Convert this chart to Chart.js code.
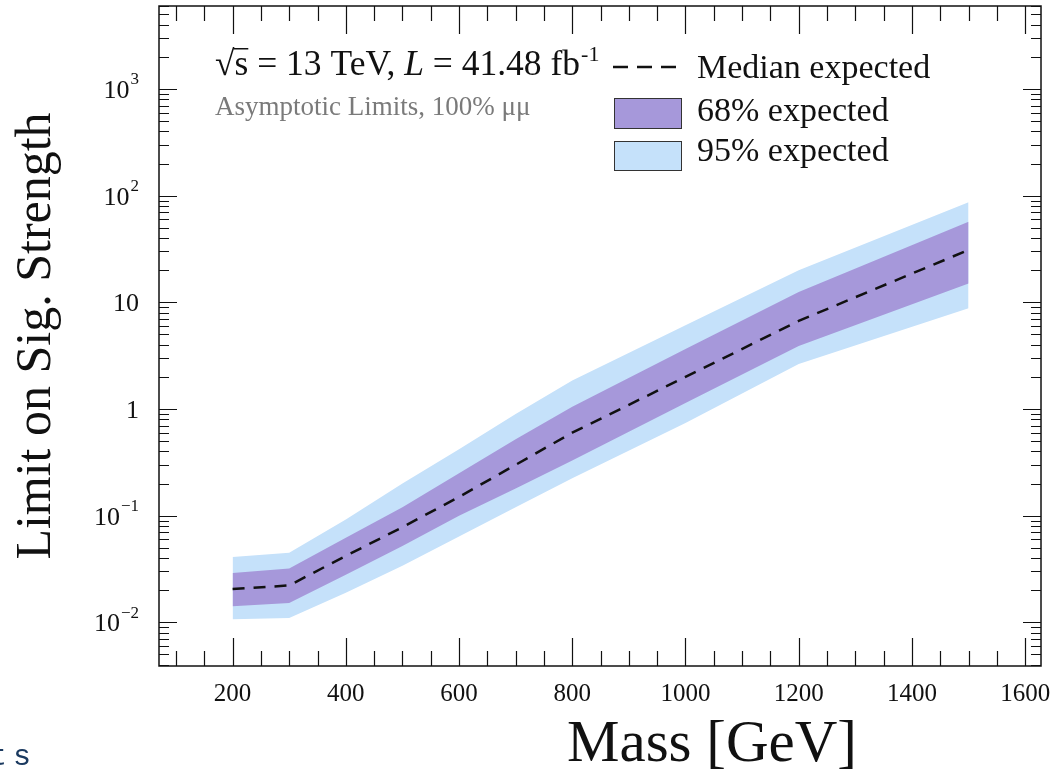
<!DOCTYPE html>
<html>
<head>
<meta charset="utf-8">
<script src="https://cdn.jsdelivr.net/npm/chart.js@4.4.1/dist/chart.umd.min.js"></script>
<style>
    html, body { margin: 0; padding: 0; background: #fff; }
    #wrap { position: relative; width: 1062px; height: 775px; overflow: hidden; }
    #tag { position: absolute; left: -11px; top: 742px; font: 30px "Liberation Mono", monospace; letter-spacing: 6px; color: #1b3a60; line-height: 1; }
</style>
</head>
<body>
<div id="wrap">
    <canvas id="limitChart" width="1062" height="775"></canvas>
    <div id="tag">ts</div>
</div>
<script>
// values (signal strength limits vs. mass in GeV)
const masses = [200, 300, 400, 500, 600, 700, 800, 1000, 1200, 1500];
const median = [0.0205, 0.0222, 0.042, 0.078, 0.15, 0.30, 0.60, 2.0, 6.7, 31];
const up68 = [0.029, 0.032, 0.062, 0.12, 0.25, 0.52, 1.05, 3.65, 12.5, 57];
const down68 = [0.0142, 0.0152, 0.028, 0.052, 0.10, 0.18, 0.33, 1.14, 3.9, 15];
const up95 = [0.041, 0.045, 0.092, 0.20, 0.42, 0.90, 1.85, 6.1, 20, 87];
const down95 = [0.0107, 0.011, 0.019, 0.034, 0.064, 0.12, 0.225, 0.74, 2.65, 8.8];

const xTickValues = [200, 400, 600, 800, 1000, 1200, 1400, 1600];
const xTickLabels = ['200', '400', '600', '800', '1000', '1200', '1400', '1600'];
const yTickValues = [0.01, 0.1, 1, 10, 100, 1000];
// [base, exponent]
const yTickLabels = [['10', '\u22122'], ['10', '\u22121'], ['1', ''], ['10', ''], ['10', '2'], ['10', '3']];
const legendLabels = ['Median expected', '68% expected', '95% expected'];

const color68 = '#a698da';
const color95 = '#c5e1fa';
const serif = '"Liberation Serif", "Times New Roman", serif';

const points = (vals) => masses.map((m, i) => ({ x: m, y: vals[i] }));

// ROOT-style frame with inward ticks on all four sides, plus the y labels with real superscripts
const frameAndTicks = {
    id: 'frameAndTicks',
    afterDatasetsDraw(chart) {
        const { ctx, chartArea: a, scales: { x, y } } = chart;
        ctx.save();
        ctx.strokeStyle = '#111';
        ctx.lineWidth = 1.2;
        ctx.beginPath();
        for (let v = Math.ceil(x.min / 50) * 50; v <= x.max; v += 50) {
            const px = Math.round(x.getPixelForValue(v)) + 0.5;
            const len = v % 200 === 0 ? 28 : 15;
            ctx.moveTo(px, a.bottom); ctx.lineTo(px, a.bottom - len);
            ctx.moveTo(px, a.top); ctx.lineTo(px, a.top + len);
        }
        for (let e = -3; e <= 3; e++) {
            for (let k = 1; k <= 9; k++) {
                const v = k * Math.pow(10, e);
                if (v < y.min || v > y.max) continue;
                const py = Math.round(y.getPixelForValue(v)) + 0.5;
                const len = k === 1 ? 18 : 10;
                ctx.moveTo(a.left, py); ctx.lineTo(a.left + len, py);
                ctx.moveTo(a.right, py); ctx.lineTo(a.right - len, py);
            }
        }
        ctx.stroke();
        ctx.lineWidth = 1.5;
        ctx.strokeRect(a.left, a.top, a.right - a.left, a.bottom - a.top);

        ctx.fillStyle = '#111';
        ctx.textAlign = 'right';
        ctx.textBaseline = 'middle';
        const rightEdge = a.left - 20;
        yTickValues.forEach((v, i) => {
            const py = y.getPixelForValue(v) + 2;
            const [base, exp] = yTickLabels[i];
            let ew = 0;
            if (exp) {
                ctx.font = '17px ' + serif;
                ew = ctx.measureText(exp).width + 1;
                ctx.fillText(exp, rightEdge, py - 11);
            }
            ctx.font = '26px ' + serif;
            ctx.fillText(base, rightEdge - ew, py);
        });
        ctx.restore();
    }
};

// axis titles, the energy/lumi label and the legend box
const labels = {
    id: 'labels',
    afterDraw(chart) {
        const { ctx, chartArea: a } = chart;
        ctx.save();
        ctx.fillStyle = '#111';

        ctx.save();
        ctx.translate(37, (a.top + a.bottom) / 2);
        ctx.rotate(-Math.PI / 2);
        ctx.font = '50px ' + serif;
        ctx.textAlign = 'center';
        ctx.textBaseline = 'middle';
        ctx.fillText('Limit on Sig. Strength', 0, 0);
        ctx.restore();

        ctx.font = '59px ' + serif;
        ctx.textAlign = 'left';
        ctx.textBaseline = 'alphabetic';
        ctx.fillText('Mass [GeV]', 567, 761);

        // sqrt(s) = 13 TeV, L = 41.48 fb^-1
        let tx = 215;
        const by = 75;
        ctx.font = '35.5px ' + serif;
        ctx.fillText('\u221A', tx, by);
        const rw = ctx.measureText('\u221A').width;
        const sw = ctx.measureText('s').width;
        ctx.fillRect(tx + rw - 1, by - 27, sw + 1, 1.5);
        ctx.fillText('s = 13 TeV, ', tx + rw, by);
        tx += rw + ctx.measureText('s = 13 TeV, ').width;
        ctx.font = 'italic 35.5px ' + serif;
        ctx.fillText('L', tx, by);
        tx += ctx.measureText('L').width;
        ctx.font = '35.5px ' + serif;
        ctx.fillText(' = 41.48 fb', tx, by);
        tx += ctx.measureText(' = 41.48 fb').width;
        ctx.font = '22px ' + serif;
        ctx.fillText('-1', tx + 1, by - 14);

        ctx.fillStyle = '#7a7a7a';
        ctx.font = '27px ' + serif;
        ctx.fillText('Asymptotic Limits, 100% \u03BC\u03BC', 215, 115);

        // legend
        ctx.strokeStyle = '#111';
        ctx.lineWidth = 2.5;
        ctx.setLineDash([15, 9]);
        ctx.beginPath();
        ctx.moveTo(613, 67); ctx.lineTo(682, 67);
        ctx.stroke();
        ctx.setLineDash([]);

        ctx.lineWidth = 1;
        ctx.strokeStyle = '#333';
        ctx.fillStyle = color68;
        ctx.fillRect(614, 98, 68, 30);
        ctx.strokeRect(614.5, 98.5, 67, 30);
        ctx.fillStyle = color95;
        ctx.fillRect(614, 141, 68, 29);
        ctx.strokeRect(614.5, 141.5, 67, 29);

        ctx.fillStyle = '#111';
        ctx.font = '34px ' + serif;
        ctx.fillText(legendLabels[0], 697, 78);
        ctx.fillText(legendLabels[1], 697, 121);
        ctx.fillText(legendLabels[2], 697, 161);
        ctx.restore();
    }
};

const ctx = document.getElementById('limitChart').getContext('2d');
new Chart(ctx, {
    type: 'line',
    data: {
        datasets: [
            { label: '95% up', data: points(up95), fill: '+1', backgroundColor: color95, borderWidth: 0, pointRadius: 0, order: 3 },
            { label: '95% down', data: points(down95), fill: false, borderWidth: 0, pointRadius: 0, order: 3 },
            { label: '68% up', data: points(up68), fill: '+1', backgroundColor: color68, borderWidth: 0, pointRadius: 0, order: 2 },
            { label: '68% down', data: points(down68), fill: false, borderWidth: 0, pointRadius: 0, order: 2 },
            { label: 'Median expected', data: points(median), fill: false, borderColor: '#111', borderWidth: 2.5,
              borderDash: [12, 9], pointRadius: 0, tension: 0, order: 1 }
        ]
    },
    options: {
        responsive: false,
        animation: false,
        devicePixelRatio: 1,
        layout: { padding: { top: 6, right: 21, left: 0, bottom: 0 } },
        plugins: {
            legend: { display: false },
            tooltip: { enabled: false }
        },
        scales: {
            x: {
                type: 'linear',
                min: 70,
                max: 1628,
                grid: { display: false, drawTicks: false },
                border: { display: false },
                afterBuildTicks: (s) => { s.ticks = xTickValues.map(v => ({ value: v })); },
                ticks: {
                    callback: (v, i) => xTickLabels[i],
                    font: { family: serif, size: 25 },
                    color: '#111',
                    padding: 13,
                    maxRotation: 0,
                    autoSkip: false
                },
                afterFit: (s) => { s.height = 109; s.paddingLeft = 0; s.paddingRight = 0; }
            },
            y: {
                type: 'logarithmic',
                min: 0.0039,
                max: 6000,
                grid: { display: false, drawTicks: false },
                border: { display: false },
                afterBuildTicks: (s) => { s.ticks = yTickValues.map(v => ({ value: v })); },
                ticks: { display: false },
                afterFit: (s) => { s.width = 159; s.paddingTop = 0; s.paddingBottom = 0; }
            }
        }
    },
    plugins: [frameAndTicks, labels]
});
</script>
</body>
</html>
